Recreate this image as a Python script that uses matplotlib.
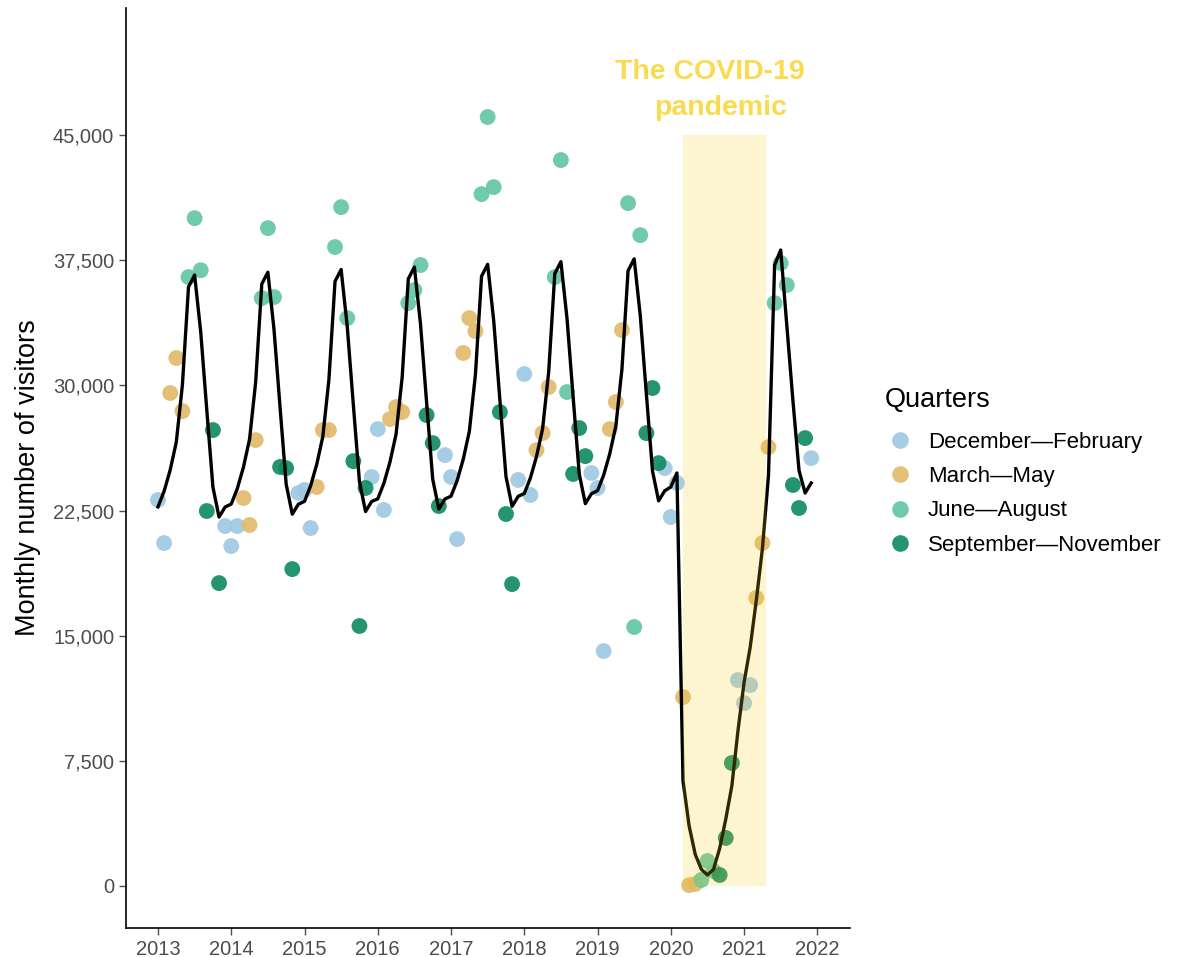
import numpy as np
import matplotlib
matplotlib.use("Agg")
import matplotlib.pyplot as plt
from matplotlib.lines import Line2D
from matplotlib.patches import Rectangle
from matplotlib.ticker import FuncFormatter

plt.rcParams['font.family'] = ['Liberation Sans', 'DejaVu Sans']

years = list(range(2013, 2022))

# monthly visitors (Jan..Dec) per year
visitors_2013 = [23130, 20550, 29540, 31640, 28460, 36490, 40020, 36900, 22470, 27320, 18150, 21570]
visitors_2014 = [20370, 21570, 23250, 21630, 26720, 35230, 39420, 35290, 25110, 25040, 18990, 23550]
visitors_2015 = [23730, 21450, 23910, 27320, 27320, 38290, 40680, 34030, 25460, 15580, 23850, 24510]
visitors_2016 = [27380, 22530, 27980, 28700, 28400, 34930, 35710, 37210, 28220, 26540, 22770, 25820]
visitors_2017 = [24510, 20790, 31940, 34030, 33250, 41460, 46080, 41880, 28400, 22290, 18090, 24330]
visitors_2018 = [30680, 23430, 26120, 27140, 29900, 36490, 43500, 29600, 24690, 27440, 25760, 24750]
visitors_2019 = [23850, 14080, 27380, 29000, 33310, 40920, 15520, 39000, 27140, 29840, 25340, 25040]
visitors_2020 = [22110, 24150, 11320, 50, 120, 360, 1500, 900, 660, 2880, 7370, 12340]
visitors_2021 = [10960, 12040, 17260, 20550, 26300, 34930, 37330, 36010, 24030, 22650, 26840, 25640]

# fitted model line (Jan..Dec) per year
fit_2013 = [22720, 23650, 24930, 26600, 30020, 35900, 36610, 33200, 28500, 23900, 22110, 22710]
fit_2014 = [22890, 23820, 25100, 26770, 30190, 36070, 36780, 33370, 28670, 24070, 22280, 22880]
fit_2015 = [23050, 23980, 25260, 26930, 30350, 36230, 36940, 33530, 28830, 24230, 22440, 23040]
fit_2016 = [23200, 24130, 25410, 27080, 30500, 36380, 37090, 33680, 28980, 24380, 22590, 23190]
fit_2017 = [23360, 24290, 25570, 27240, 30660, 36540, 37250, 33840, 29140, 24540, 22750, 23350]
fit_2018 = [23520, 24450, 25730, 27400, 30820, 36700, 37410, 34000, 29300, 24700, 22910, 23510]
fit_2019 = [23690, 24620, 25900, 27570, 30990, 36870, 37580, 34170, 29470, 24870, 23080, 23680]
fit_2020 = [23910, 24750, 6300, 3600, 1900, 1000, 660, 1000, 2250, 4000, 6000, 9300]
fit_2021 = [12200, 14300, 17100, 20200, 24600, 37200, 38110, 33600, 29100, 24900, 23550, 24150]

quarter_labels = ["December\u2014February", "March\u2014May", "June\u2014August", "September\u2014November"]
quarter_colors = ["#9EC8E2", "#E2B868", "#5FC6A2", "#0C8A5E"]
yticks = [0, 7500, 15000, 22500, 30000, 37500, 45000]
xticks = list(range(2013, 2023))
covid_start, covid_end, covid_top = 2020 + 2/12, 2021.3, 45000

visitors = np.array(visitors_2013 + visitors_2014 + visitors_2015 + visitors_2016 + visitors_2017
                    + visitors_2018 + visitors_2019 + visitors_2020 + visitors_2021, dtype=float)
fitted = np.array(fit_2013 + fit_2014 + fit_2015 + fit_2016 + fit_2017
                  + fit_2018 + fit_2019 + fit_2020 + fit_2021, dtype=float)
months = np.array([m for y in years for m in range(1, 13)])
t = np.array([y + (m - 1) / 12 for y in years for m in range(1, 13)])
qidx = np.array([{12: 0, 1: 0, 2: 0, 3: 1, 4: 1, 5: 1, 6: 2, 7: 2, 8: 2}.get(m, 3) for m in months])

fig = plt.figure(figsize=(11.85, 9.57), dpi=100)
ax = fig.add_axes([0.1063, 0.0303, 0.611, 0.9613])

for q in range(4):
    sel = qidx == q
    ax.scatter(t[sel], visitors[sel], s=130, color=quarter_colors[q], alpha=0.9,
               edgecolors='none', zorder=2)

ax.plot(t, fitted, color='black', lw=2.4, zorder=3)

ax.add_patch(Rectangle((covid_start, 0), covid_end - covid_start, covid_top,
                       facecolor='#F5C814', alpha=0.2, edgecolor='none', zorder=4))

ax.text(2020.535, 48350, "The COVID-19", ha='center', va='baseline', fontsize=20.5,
        fontweight='bold', color='#FADB4F', zorder=5)
ax.text(2020.685, 46200, "pandemic", ha='center', va='baseline', fontsize=20.5,
        fontweight='bold', color='#FADB4F', zorder=5)

ax.set_xlim(2012.563, 2022.446)
ax.set_ylim(-2517, 52610)
ax.set_xticks(xticks)
ax.set_yticks(yticks)
ax.yaxis.set_major_formatter(FuncFormatter(lambda v, p: f"{int(v):,}"))
ax.tick_params(axis='both', labelsize=14.5, colors='#4D4D4D', length=5, width=1,
               labelcolor='#4D4D4D')
for side in ['top', 'right']:
    ax.spines[side].set_visible(False)
for side in ['left', 'bottom']:
    ax.spines[side].set_linewidth(1.2)
    ax.spines[side].set_color('black')
ax.set_ylabel("Monthly number of visitors", fontsize=19.5, color='black')
ax.yaxis.set_label_coords(-0.117, 0.49)

handles = [Line2D([0], [0], marker='o', linestyle='none', markersize=12,
                  markerfacecolor=c, markeredgecolor='none', alpha=0.9) for c in quarter_colors]
leg = fig.legend(handles, quarter_labels, loc='upper left', bbox_to_anchor=(0.739, 0.605),
                 frameon=False, title="Quarters", fontsize=16, title_fontsize=19.5,
                 alignment='left', handletextpad=0.55, labelspacing=0.6, borderaxespad=0,
                 handlelength=1.4)
leg._legend_box.sep = 13.5

fig.savefig("out.png", dpi=100)
